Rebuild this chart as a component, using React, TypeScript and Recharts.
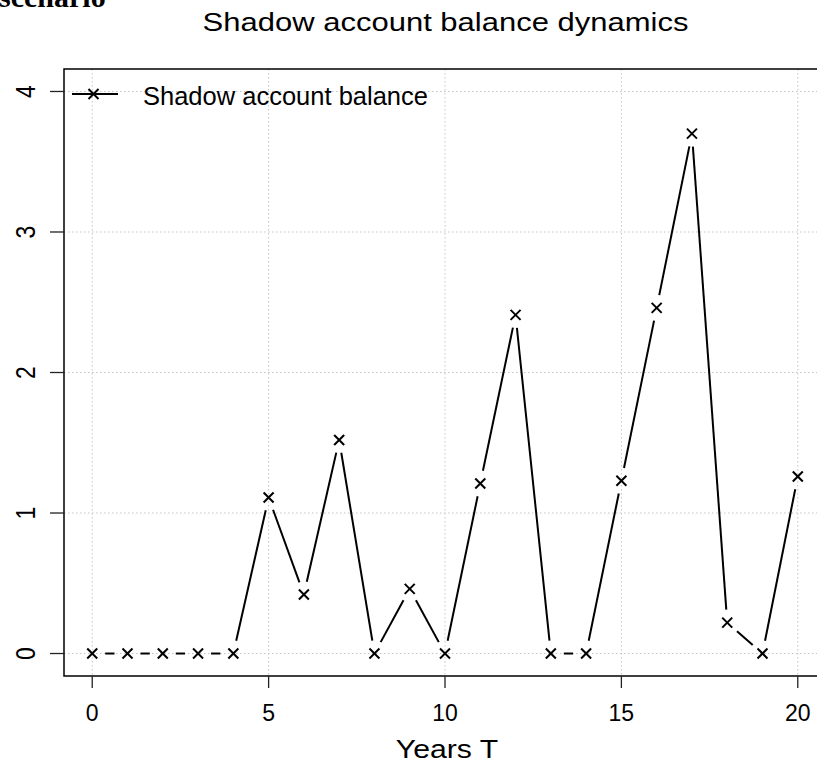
import React from 'react';
import { LineChart, Line, XAxis, YAxis, CartesianGrid, ReferenceArea } from 'recharts';

const years = [0, 1, 2, 3, 4, 5, 6, 7, 8, 9, 10, 11, 12, 13, 14, 15, 16, 17, 18, 19, 20];
const balance = [0, 0, 0, 0, 0, 1.11, 0.42, 1.52, 0, 0.46, 0, 1.21, 2.41, 0, 0, 1.23, 2.46, 3.7, 0.22, 0, 1.26];
const xTicks = [0, 5, 10, 15, 20];
const yTicks = [0, 1, 2, 3, 4];
const xDomain = [-0.8, 20.8];
const yDomain = [-0.16, 4.16];

const data = years.map((t, i) => ({ t, v: balance[i] }));

const FONT = '"Liberation Sans", Arial, Helvetica, sans-serif';
const GAP = 13;
const HALF = 5;

const Cross = ({ cx, cy }: { cx: number; cy: number }) => (
  <g stroke="#000" strokeWidth={2}>
    <line x1={cx - HALF} y1={cy - HALF} x2={cx + HALF} y2={cy + HALF} />
    <line x1={cx - HALF} y1={cy + HALF} x2={cx + HALF} y2={cy - HALF} />
  </g>
);

const renderDot = (props: any) => {
  const { cx, cy, index, points } = props;
  let seg: any = null;
  if (points && index < points.length - 1) {
    const n = points[index + 1];
    const dx = n.x - cx;
    const dy = n.y - cy;
    const d = Math.hypot(dx, dy);
    if (d > 2 * GAP) {
      const ux = dx / d;
      const uy = dy / d;
      seg = (
        <line
          x1={cx + ux * GAP}
          y1={cy + uy * GAP}
          x2={n.x - ux * GAP}
          y2={n.y - uy * GAP}
          stroke="#000"
          strokeWidth={2}
        />
      );
    }
  }
  return (
    <g key={`dot-${index}`}>
      {seg}
      <Cross cx={cx} cy={cy} />
    </g>
  );
};

const XTick = (props: any) => {
  const { x, y, payload } = props;
  return (
    <text x={x} y={y + 31} textAnchor="middle" fontFamily={FONT} fontSize={23} fill="#000">
      {payload.value}
    </text>
  );
};

const YTick = (props: any) => {
  const { x, y, payload } = props;
  return (
    <text
      x={0}
      y={0}
      transform={`translate(${x},${y}) scale(1.2,1) rotate(-90)`}
      textAnchor="middle"
      fontFamily={FONT}
      fontSize={23}
      fill="#000"
    >
      {payload.value}
    </text>
  );
};

const XTitle = (props: any) => {
  const vb = props.viewBox || { x: 64, y: 676, width: 762, height: 91 };
  const cx = vb.x + vb.width / 2 + 2;
  const by = vb.y + 82;
  return (
    <text
      x={0}
      y={0}
      transform={`translate(${cx},${by}) scale(1.14,1)`}
      textAnchor="middle"
      fontFamily={FONT}
      fontSize={26.5}
      fill="#000"
    >
      Years T
    </text>
  );
};

export default function App() {
  return (
    <div style={{ position: 'absolute', left: 0, top: 0, width: 817, height: 767, overflow: 'hidden', background: '#fff' }}>
      <LineChart width={840} height={767} data={data} margin={{ top: 69, right: 14, bottom: 0, left: 0 }}>
        <CartesianGrid
          stroke="#c4c4c4"
          strokeDasharray="1.5 2.5"
          horizontalValues={yTicks}
          verticalValues={xTicks}
        />
        <XAxis
          dataKey="t"
          type="number"
          domain={xDomain}
          allowDataOverflow
          ticks={xTicks}
          height={91}
          tickSize={12}
          axisLine={false}
          tickLine={{ stroke: '#222', strokeWidth: 1.3 }}
          tick={<XTick />}
          interval={0}
          label={<XTitle />}
        />
        <YAxis
          type="number"
          domain={yDomain}
          allowDataOverflow
          ticks={yTicks}
          width={64}
          tickSize={14}
          tickMargin={15}
          axisLine={false}
          tickLine={{ stroke: '#222', strokeWidth: 1.3 }}
          tick={<YTick />}
          interval={0}
        />
        <ReferenceArea
          x1={xDomain[0]}
          x2={xDomain[1]}
          y1={yDomain[0]}
          y2={yDomain[1]}
          fill="none"
          fillOpacity={0}
          stroke="#000"
          strokeWidth={1.5}
          ifOverflow="visible"
        />
        <Line
          dataKey="v"
          type="linear"
          stroke="transparent"
          strokeWidth={0}
          dot={renderDot}
          activeDot={false}
          isAnimationActive={false}
        />
      </LineChart>
      <svg width={817} height={767} style={{ position: 'absolute', left: 0, top: 0, pointerEvents: 'none' }}>
        <text x={-1} y={7} fontFamily='"Liberation Serif", "Times New Roman", serif' fontWeight="bold" fontSize={30} fill="#000">
          scenario
        </text>
        <text
          x={0}
          y={0}
          transform="translate(445.5,30.5) scale(1.24,1)"
          textAnchor="middle"
          fontFamily={FONT}
          fontSize={25}
          fill="#000"
        >
          Shadow account balance dynamics
        </text>
        <line x1={72} y1={94} x2={118} y2={94} stroke="#000" strokeWidth={2} />
        <Cross cx={93.5} cy={94} />
        <text x={143} y={105} fontFamily={FONT} fontSize={25.5} fill="#000">
          Shadow account balance
        </text>
      </svg>
    </div>
  );
}
